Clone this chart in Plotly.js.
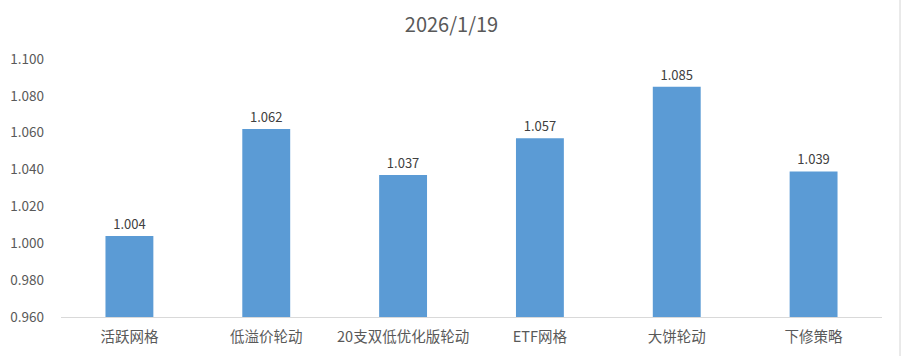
<!DOCTYPE html>
<html>
<head>
<meta charset="utf-8">
<script src="https://cdn.plot.ly/plotly-3.0.1.min.js"></script>
<style>html,body{margin:0;padding:0;background:#fff;}#chart{width:903px;height:356px;}</style>
</head>
<body>
<div id="chart"></div>
<script>
const categories = ['活跃网格', '低溢价轮动', '20支双低优化版轮动', 'ETF网格', '大饼轮动', '下修策略'];
const values = [1.004, 1.062, 1.037, 1.057, 1.085, 1.039];
const tickValues = [0.96, 0.98, 1.00, 1.02, 1.04, 1.06, 1.08, 1.10];
const chartTitle = '2026/1/19';

const FONT = '"Noto Sans CJK SC", "Noto Sans", sans-serif';
const L = 61, R = 21, W = 903;
const plotW = W - L - R;

const trace = {
  type: 'bar',
  x: categories,
  y: values,
  marker: {color: '#5B9BD5'},
  texttemplate: '%{y:.3f}',
  textposition: 'outside',
  cliponaxis: false,
  textfont: {family: FONT, size: 13, color: '#404040'},
  hoverinfo: 'x+y'
};

const layout = {
  width: 903, height: 356,
  margin: {l: L, r: R, t: 59, b: 39},
  paper_bgcolor: '#fff', plot_bgcolor: '#fff',
  title: {text: chartTitle, x: 0.5, xanchor: 'center', y: 0.93, yanchor: 'middle',
          font: {family: FONT, size: 20, color: '#595959'}},
  bargap: 0.65,
  showlegend: false,
  xaxis: {
    showgrid: false, zeroline: false,
    showline: true, linecolor: '#D9D9D9', linewidth: 1,
    ticks: '', ticklabelstandoff: 7,
    tickfont: {family: FONT, size: 14.5, color: '#595959'}
  },
  yaxis: {
    range: [0.96, 1.10], tickvals: tickValues, tickformat: '.3f',
    showgrid: false, zeroline: false, showline: false, ticks: '',
    ticklabelstandoff: 16,
    tickfont: {family: FONT, size: 13.5, color: '#595959'}
  },
  shapes: [{
    type: 'line', xref: 'paper', yref: 'paper',
    x0: (900 - L) / plotW, x1: (900 - L) / plotW,
    y0: -39 / 258, y1: 1 + 59 / 258,
    line: {color: '#D4D4D4', width: 1}
  }]
};

Plotly.newPlot('chart', [trace], layout, {displayModeBar: false, staticPlot: true});
</script>
</body>
</html>
